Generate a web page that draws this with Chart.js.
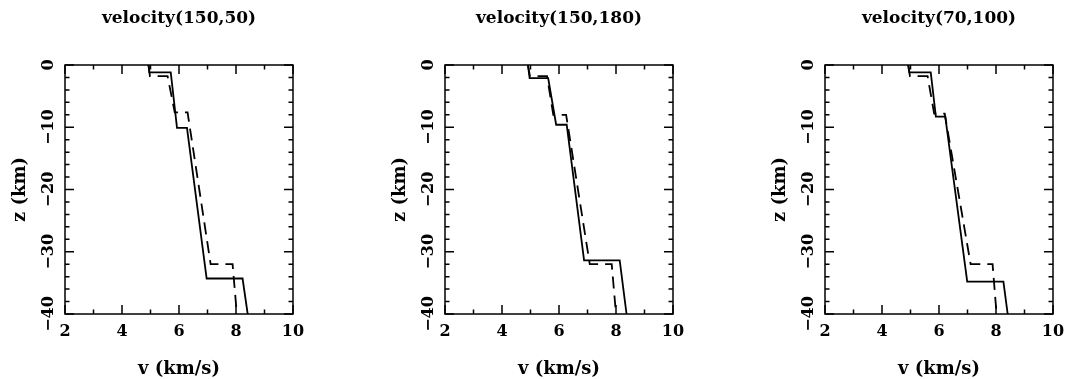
<!DOCTYPE html>
<html>
<head>
<meta charset="utf-8">
<script src="https://cdn.jsdelivr.net/npm/chart.js@4"></script>
<style>
  body { margin: 0; background: #fff; width: 1067px; height: 379px; position: relative; overflow: hidden; }
  .panel { position: absolute; top: 0; width: 320px; height: 379px; }
</style>
</head>
<body>
<div class="panel" style="left:0px"><canvas id="c1" width="320" height="379"></canvas></div>
<div class="panel" style="left:380px"><canvas id="c2" width="320" height="379"></canvas></div>
<div class="panel" style="left:760px"><canvas id="c3" width="320" height="379"></canvas></div>
<script>
// panel titles and axis ranges
const panelTitles = ['velocity(150,50)', 'velocity(150,180)', 'velocity(70,100)'];
const vTicks = [2, 4, 6, 8, 10];
const zTicks = [0, -10, -20, -30, -40];

// velocity profiles (v in km/s, z in km)
// panel 1
const solidV1  = [4.93, 4.96, 5.71, 5.93, 6.28, 6.97, 8.23, 8.41];
const solidZ1  = [0, -1.2, -1.2, -10.1, -10.1, -34.3, -34.3, -40];
const dashV1   = [4.93, 4.98, 5.60, 5.85, 6.30, 7.11, 7.88, 8.03];
const dashZ1   = [0, -1.8, -1.8, -7.6, -7.6, -32.0, -32.0, -40];
// panel 2
const solidV2  = [4.91, 4.97, 5.62, 5.90, 6.27, 6.88, 8.13, 8.37];
const solidZ2  = [0, -2.1, -2.1, -9.6, -9.6, -31.4, -31.4, -40];
const dashV2   = [4.91, 4.98, 5.58, 5.80, 6.25, 7.08, 7.85, 8.00];
const dashZ2   = [0, -1.8, -1.8, -8.0, -8.0, -32.0, -32.0, -40];
// panel 3
const solidV3  = [4.92, 4.96, 5.71, 5.89, 6.22, 6.99, 8.26, 8.41];
const solidZ3  = [0, -1.2, -1.2, -8.3, -8.3, -34.8, -34.8, -40];
const dashV3   = [4.92, 4.98, 5.60, 5.83, 6.20, 7.11, 7.88, 8.02];
const dashZ3   = [0, -1.8, -1.8, -7.8, -7.8, -32.0, -32.0, -40];

const FONT = 'DejaVu Serif';
Chart.defaults.color = '#000';
Chart.defaults.font.family = FONT;
Chart.defaults.font.weight = 'bold';

function toPoints(vs, zs) {
    return vs.map((v, i) => ({ x: v, y: zs[i] }));
}

function minus(val) {
    return val < 0 ? '\u2212' + Math.abs(val) : String(val);
}

// box frame with inward ticks on all four sides, like the original plot
const frameTicks = {
    id: 'frameTicks',
    afterDraw(chart) {
        const { ctx, chartArea: a, scales: { x, y } } = chart;
        ctx.save();
        ctx.strokeStyle = '#000';
        ctx.lineWidth = 1.5;
        ctx.strokeRect(a.left, a.top, a.right - a.left, a.bottom - a.top);
        ctx.beginPath();
        for (let v = x.min; v <= x.max; v += 1) {
            const px = x.getPixelForValue(v);
            const len = v % 2 === 0 ? 9 : 4.5;
            ctx.moveTo(px, a.top); ctx.lineTo(px, a.top + len);
            ctx.moveTo(px, a.bottom); ctx.lineTo(px, a.bottom - len);
        }
        for (let z = y.max; z >= y.min; z -= 2) {
            const py = y.getPixelForValue(z);
            const len = z % 10 === 0 ? 9 : 4.5;
            ctx.moveTo(a.left, py); ctx.lineTo(a.left + len, py);
            ctx.moveTo(a.right, py); ctx.lineTo(a.right - len, py);
        }
        ctx.stroke();
        ctx.restore();
    }
};

function makePanel(id, title, solidV, solidZ, dashV, dashZ) {
    const ctx = document.getElementById(id).getContext('2d');
    return new Chart(ctx, {
        type: 'line',
        data: {
            datasets: [{
                data: toPoints(solidV, solidZ),
                borderColor: '#000',
                borderWidth: 1.8,
                pointRadius: 0,
                tension: 0,
                fill: false
            }, {
                data: toPoints(dashV, dashZ),
                borderColor: '#000',
                borderWidth: 1.8,
                borderDash: [12, 7],
                pointRadius: 0,
                tension: 0,
                fill: false
            }]
        },
        options: {
            responsive: false,
            animation: false,
            events: [],
            layout: { padding: { top: 0, right: 27, bottom: 0, left: 0 } },
            plugins: {
                legend: { display: false },
                tooltip: { enabled: false },
                title: {
                    display: true,
                    text: title,
                    fullSize: false,
                    font: { family: FONT, size: 17, weight: 'bold', lineHeight: '22px' },
                    padding: { top: 8, bottom: 35 }
                }
            },
            scales: {
                x: {
                    type: 'linear',
                    min: vTicks[0],
                    max: vTicks[vTicks.length - 1],
                    grid: { display: false, drawTicks: false },
                    border: { display: false },
                    afterBuildTicks: s => { s.ticks = vTicks.map(v => ({ value: v })); },
                    afterFit: s => { s.height = 65; },
                    ticks: {
                        font: { family: FONT, size: 16, weight: 'bold' },
                        padding: 8,
                        maxRotation: 0,
                        callback: minus
                    },
                    title: {
                        display: true,
                        text: 'v (km/s)',
                        font: { family: FONT, size: 18, weight: 'bold', lineHeight: '20px' },
                        padding: { top: 0, bottom: 0 }
                    }
                },
                y: {
                    type: 'linear',
                    min: zTicks[zTicks.length - 1],
                    max: zTicks[0],
                    grid: { display: false, drawTicks: false },
                    border: { display: false },
                    afterBuildTicks: s => { s.ticks = zTicks.map(v => ({ value: v })); },
                    afterFit: s => { s.width = 65; },
                    ticks: {
                        font: { family: FONT, size: 16, weight: 'bold' },
                        padding: -2,
                        minRotation: 90,
                        maxRotation: 90,
                        crossAlign: 'center',
                        callback: minus
                    },
                    title: {
                        display: true,
                        text: 'z (km)',
                        font: { family: FONT, size: 18, weight: 'bold', lineHeight: '20px' },
                        padding: { top: 10, bottom: 0 }
                    }
                }
            }
        },
        plugins: [frameTicks]
    });
}

makePanel('c1', panelTitles[0], solidV1, solidZ1, dashV1, dashZ1);
makePanel('c2', panelTitles[1], solidV2, solidZ2, dashV2, dashZ2);
makePanel('c3', panelTitles[2], solidV3, solidZ3, dashV3, dashZ3);
</script>
</body>
</html>
